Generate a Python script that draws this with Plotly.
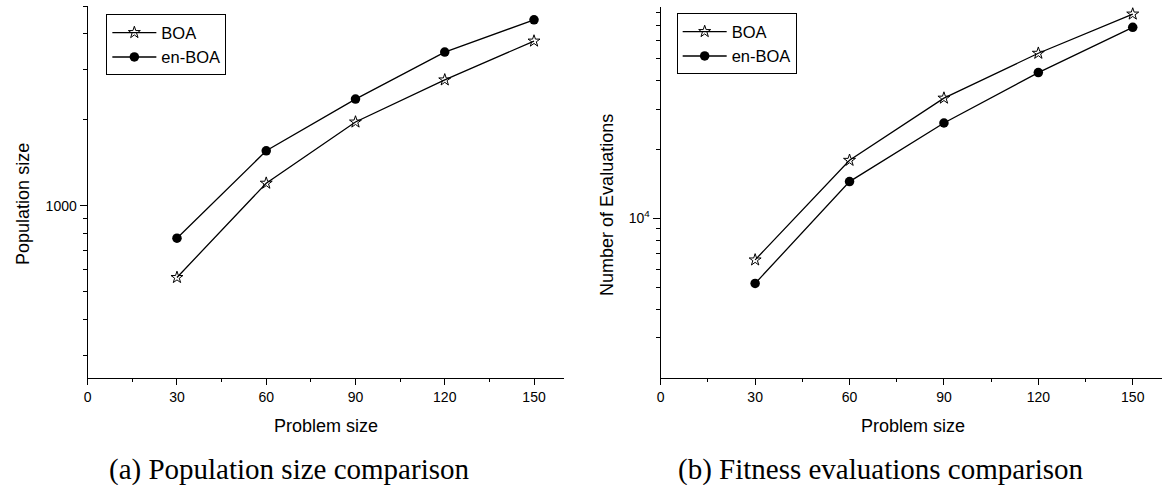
import math
import plotly.graph_objects as go

W, H = 1162, 485

# ---- data ----
problem_size = [30, 60, 90, 120, 150]
pop_boa = [561, 1200, 1965, 2760, 3775]
pop_enboa = [770, 1558, 2364, 3454, 4480]
eval_boa = [6580, 17970, 33650, 52900, 78560]
eval_enboa = [5190, 14500, 26180, 43540, 68710]

x_ticks = [0, 30, 60, 90, 120, 150]
pop_major = [1000]
pop_major_text = ["1000"]
pop_minor = [300, 400, 500, 600, 700, 800, 900, 2000, 3000, 4000, 5000]
eval_major = [10000]
eval_major_text = ["10<sup>4</sup>"]
eval_minor = [3000, 4000, 5000, 6000, 7000, 8000, 9000,
              20000, 30000, 40000, 50000, 60000, 70000, 80000]


def px(p):
    return p / W


def py(p):
    return 1 - p / H


fig = go.Figure()

line = dict(color="black", width=1.3)
star = dict(symbol="star-open", size=9, color="black", line=dict(color="black", width=1))
dot = dict(symbol="circle", size=9.5, color="black")

fig.add_trace(go.Scatter(x=problem_size, y=pop_boa, mode="lines+markers", name="BOA",
                         line=line, marker=star, xaxis="x", yaxis="y", legend="legend"))
fig.add_trace(go.Scatter(x=problem_size, y=pop_enboa, mode="lines+markers", name="en-BOA",
                         line=line, marker=dot, xaxis="x", yaxis="y", legend="legend"))
fig.add_trace(go.Scatter(x=problem_size, y=eval_boa, mode="lines+markers", name="BOA",
                         line=line, marker=star, xaxis="x2", yaxis="y2", legend="legend2"))
fig.add_trace(go.Scatter(x=problem_size, y=eval_enboa, mode="lines+markers", name="en-BOA",
                         line=line, marker=dot, xaxis="x2", yaxis="y2", legend="legend2"))

tickfont = dict(family="Liberation Sans, Arial", size=14, color="black")

xcommon = dict(range=[0, 160], tickvals=x_ticks, ticks="outside", ticklen=6, tickwidth=1,
               tickcolor="black", showline=True, linecolor="black", linewidth=1.3,
               showgrid=False, zeroline=False, tickfont=tickfont,
               minor=dict(dtick=15, tick0=0, ticks="outside", ticklen=3, tickcolor="black",
                          showgrid=False))

legfont = dict(family="Liberation Sans, Arial", size=16.5, color="black")

fig.update_layout(
    width=W, height=H,
    margin=dict(l=0, r=0, t=0, b=0),
    paper_bgcolor="white", plot_bgcolor="white",
    showlegend=True,
    xaxis=dict(domain=[px(84), px(561.7)], anchor="y", **xcommon),
    xaxis2=dict(domain=[px(659), 1.0], anchor="y2", **{**xcommon, "range": [0, 159.3]}),
    yaxis=dict(domain=[py(377.7), py(6.2)], anchor="x", type="log",
               range=[math.log10(250), math.log10(5000)],
               tickvals=pop_major, ticktext=pop_major_text, ticks="outside", ticklen=7,
               tickcolor="black", showline=True, linecolor="black", linewidth=1.3,
               showgrid=False, zeroline=False, tickfont=tickfont,
               minor=dict(tickvals=pop_minor, ticks="outside", ticklen=4, tickcolor="black",
                          showgrid=False)),
    yaxis2=dict(domain=[py(378), py(6.7)], anchor="x2", type="log",
                range=[math.log10(2000), math.log10(84600)],
                tickvals=eval_major, ticktext=eval_major_text, ticks="outside", ticklen=7,
                tickcolor="black", showline=True, linecolor="black", linewidth=1.3,
                showgrid=False, zeroline=False, tickfont=tickfont,
                minor=dict(tickvals=eval_minor, ticks="outside", ticklen=4, tickcolor="black",
                           showgrid=False)),
    legend=dict(x=px(102.7), y=py(14.3), xanchor="left", yanchor="top",
                bordercolor="black", borderwidth=1, bgcolor="white",
                font=legfont, tracegroupgap=0, itemwidth=44),
    legend2=dict(x=px(675), y=py(13.3), xanchor="left", yanchor="top",
                 bordercolor="black", borderwidth=1, bgcolor="white",
                 font=legfont, tracegroupgap=0, itemwidth=44),
)

titlefont = dict(family="Liberation Sans, Arial", size=18, color="black")
capfont = dict(family="Liberation Serif, Times New Roman", size=29, color="black")

ann = [
    dict(text="Population size", x=px(19), y=py(204), textangle=-90, font=titlefont),
    dict(text="Number of Evaluations", x=px(605), y=py(205), textangle=-90, font=titlefont),
    dict(text="Problem size", x=px(323), y=py(426), font=titlefont),
    dict(text="Problem size", x=px(912), y=py(426), font=titlefont),
    dict(text="(a) Population size comparison", x=px(285.5), y=py(469), font=capfont),
    dict(text="(b) Fitness evaluations comparison", x=px(880), y=py(469), font=capfont),
]
for a in ann:
    fig.add_annotation(xref="paper", yref="paper", showarrow=False,
                       xanchor="center", yanchor="middle", **a)

fig.write_html("out.html")
